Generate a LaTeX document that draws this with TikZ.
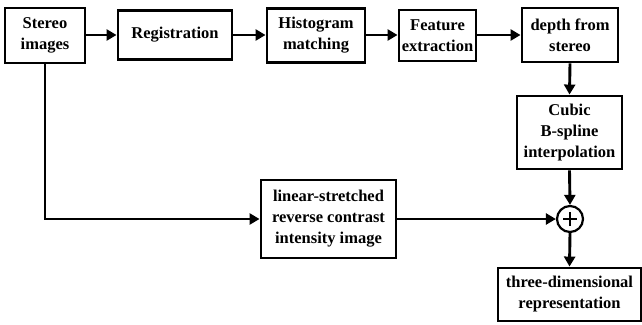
\documentclass[tikz,border=0pt]{standalone}
\usepackage{fontspec}
\setmainfont{Liberation Serif}
\usetikzlibrary{arrows.meta}
\begin{document}
\begin{tikzpicture}[x=1pt,y=-1pt,
  blk/.style={draw,line width=2.9pt,inner sep=0pt,align=center,
    font=\fontsize{16.5}{21}\selectfont\bfseries},
  arr/.style={line width=2.9pt,-{Triangle[length=10pt,width=11pt]}}]
\useasboundingbox (0,0) rectangle (642,324);
\node[blk,minimum width=80pt,minimum height=55pt] (stereo) at (45,35.5) {Stereo\\images};
\node[blk,minimum width=114pt,minimum height=49pt] (reg) at (175,35) {Registration};
\node[blk,minimum width=98pt,minimum height=54pt] (hist) at (316,35.5) {Histogram\\matching};
\node[blk,minimum width=77pt,minimum height=51pt] (feat) at (437.5,35.5) {Feature\\extraction};
\node[blk,minimum width=96pt,minimum height=54pt] (depth) at (570,35) {depth from\\stereo};
\node[blk,minimum width=105pt,minimum height=73pt] (cubic) at (569.5,132.5) {Cubic\\B-spline\\interpolation};
\node[blk,minimum width=135pt,minimum height=78pt] (lin) at (328.5,219) {linear-stretched\\reverse contrast\\intensity image};
\node[draw,circle,line width=2.2pt,minimum size=26pt,inner sep=0pt,
  path picture={\draw[line width=1.6pt] ([xshift=-7pt]path picture bounding box.center) -- ([xshift=7pt]path picture bounding box.center)
  ([yshift=-7pt]path picture bounding box.center) -- ([yshift=7pt]path picture bounding box.center);}] (sum) at (570,219) {};
\node[blk,minimum width=143pt,minimum height=53pt] (three) at (569.5,294.5) {three-dimensional\\representation};
\draw[arr] (stereo.east |- reg.west) -- (reg.west);
\draw[arr] (reg.east) -- (reg.east -| hist.west);
\draw[arr] (hist.east |- reg.east) -- (reg.east -| feat.west);
\draw[arr] (feat.east |- reg.east) -- (reg.east -| depth.west);
\draw[arr] (depth.south) -- (cubic.north);
\draw[arr] (cubic.south) -- (sum.north);
\draw[arr] (sum.south) -- (three.north);
\draw[arr] (stereo.south) |- (lin.west);
\draw[arr] (lin.east) -- (sum.west);
\end{tikzpicture}
\end{document}
